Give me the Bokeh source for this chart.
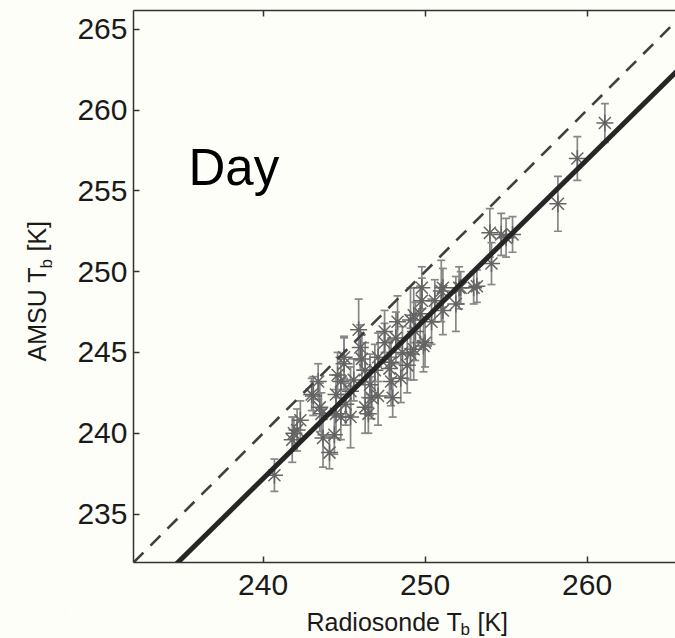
import numpy as np
from bokeh.plotting import figure
from bokeh.layouts import row, column
from bokeh.models import (Range1d, LinearAxis, Label, Whisker, TeeHead,
                          ColumnDataSource, FixedTicker, CustomJSTickFormatter)
from bokeh.embed import file_html
from bokeh.resources import INLINE

# ---------------- data ----------------
radiosonde_tb = [240.7, 241.8, 242.1, 241.9, 243.1, 243.5, 243.7, 244.1, 244.4, 244.5,
                 244.8, 245.0, 244.5, 245.1, 245.4, 244.8, 243.6, 243.4, 243.0, 244.6,
                 245.0, 245.4, 245.9, 246.1, 246.3, 246.3, 246.5, 246.7, 246.9, 247.1,
                 247.1, 247.5, 247.8, 247.9, 247.9, 248.0, 248.3, 248.5, 248.6, 248.9,
                 249.1, 249.1, 249.3, 249.4, 249.3, 249.7, 249.8, 249.9, 250.0, 249.8,
                 250.6, 251.0, 251.1, 251.1, 251.9, 252.1, 252.2, 253.0, 253.2, 254.0,
                 254.1, 254.7, 255.4, 255.0, 258.2, 259.4, 261.1, 246.0, 247.5, 242.3,
                 245.6, 250.4, 248.2, 246.6]
amsu_tb = [237.4, 239.6, 240.2, 240.0, 242.3, 241.6, 239.7, 238.8, 239.9, 241.2,
           243.2, 244.3, 242.4, 241.8, 241.0, 241.0, 241.2, 243.2, 242.4, 243.6,
           244.7, 242.6, 246.4, 244.6, 243.9, 241.6, 241.2, 242.2, 243.9, 244.7,
           242.3, 246.3, 244.0, 244.4, 243.2, 242.2, 246.9, 243.4, 245.0, 244.2,
           244.9, 247.0, 245.2, 246.3, 247.3, 247.4, 248.2, 245.4, 245.6, 249.0,
           248.2, 248.8, 247.6, 249.0, 248.0, 249.0, 249.0, 249.0, 249.1, 252.4,
           250.5, 252.3, 252.3, 252.1, 254.2, 257.0, 259.2, 245.3, 245.6, 240.8,
           243.3, 246.9, 245.9, 243.0]
amsu_err = [1.0, 1.4, 1.3, 1.0, 1.2, 1.5, 1.8, 1.0, 1.2, 1.5,
            1.5, 1.6, 1.2, 1.3, 1.9, 1.4, 1.3, 1.1, 1.0, 1.4,
            1.3, 1.5, 1.9, 1.5, 1.7, 1.6, 1.2, 1.3, 1.6, 1.5,
            1.8, 1.3, 1.7, 1.4, 1.5, 1.2, 1.6, 1.5, 1.6, 1.7,
            1.6, 2.0, 1.9, 1.8, 1.7, 1.7, 1.4, 1.6, 1.5, 1.3,
            1.3, 1.9, 1.5, 1.2, 1.7, 1.3, 1.0, 1.0, 1.0, 1.5,
            1.3, 1.3, 1.1, 1.2, 1.7, 1.35, 1.2, 1.4, 1.2, 1.2,
            1.3, 1.4, 1.6, 1.9]

one_to_one_x = [232.0, 266.0]
one_to_one_y = [232.0, 266.0]
fit_x = [232.0, 266.0]
fit_y = [229.3, 262.85]

x_ticks = [240, 250, 260]
y_ticks = [235, 240, 245, 250, 255, 260, 265]

# ---------------- styling ----------------
FONT = "Liberation Sans"
BG = "#fdfef8"
TCOL = "#1a1a1a"
FS = 25
SUB = 17

# ---------------- main figure ----------------
p = figure(width=605, height=608, output_backend="svg", toolbar_location=None,
           x_range=Range1d(232.0, 265.46), y_range=Range1d(232.0, 266.16),
           min_border_left=63, min_border_right=0, min_border_top=10,
           min_border_bottom=46)
p.background_fill_color = BG
p.border_fill_color = BG
p.outline_line_color = None
p.xgrid.visible = False
p.ygrid.visible = False

lower = [a - e for a, e in zip(amsu_tb, amsu_err)]
upper = [a + e for a, e in zip(amsu_tb, amsu_err)]
src = ColumnDataSource(dict(x=radiosonde_tb, y=amsu_tb, lower=lower, upper=upper))

bar_col = "#878787"
w = Whisker(source=src, base="x", lower="lower", upper="upper", dimension="height",
            line_color=bar_col, line_width=1.7,
            upper_head=TeeHead(size=8, line_color=bar_col, line_width=1.7),
            lower_head=TeeHead(size=8, line_color=bar_col, line_width=1.7))
p.add_layout(w)

p.scatter("x", "y", source=src, marker="asterisk", size=17,
          line_color="#646464", line_width=1.5)

p.line(one_to_one_x, one_to_one_y, line_color="#404040", line_width=2.6,
       line_dash="14 10")
p.line(fit_x, fit_y, line_color="#262626", line_width=5)

axis_col = "#333333"
for ax in (p.xaxis[0], p.yaxis[0]):
    ax.major_tick_in = 6
    ax.major_tick_out = 0
    ax.minor_tick_line_color = None
    ax.axis_line_color = axis_col
    ax.axis_line_width = 1.5
    ax.major_tick_line_color = axis_col
    ax.major_tick_line_width = 1.5
    ax.major_label_text_font = FONT
    ax.major_label_text_font_size = "30px"
    ax.major_label_text_color = TCOL
p.xaxis[0].ticker = FixedTicker(ticks=x_ticks)
p.yaxis[0].ticker = FixedTicker(ticks=y_ticks)
p.xaxis[0].major_label_standoff = 12
p.yaxis[0].major_label_standoff = 6

top = LinearAxis(ticker=FixedTicker(ticks=x_ticks),
                 formatter=CustomJSTickFormatter(code="return ''"))
top.major_tick_in = 6
top.major_tick_out = 0
top.minor_tick_line_color = None
top.axis_line_color = axis_col
top.axis_line_width = 1.5
top.major_tick_line_color = axis_col
top.major_tick_line_width = 1.5
top.major_label_standoff = 0
p.add_layout(top, "above")

p.add_layout(Label(x=55, y=395, x_units="screen", y_units="screen", text="Day",
                   text_font=FONT, text_font_size="51px", text_color="#000000",
                   text_baseline="alphabetic", text_align="left"))


def blank(width, height):
    f = figure(width=width, height=height, output_backend="svg", toolbar_location=None,
               x_range=Range1d(0, 1), y_range=Range1d(0, 1),
               x_axis_type=None, y_axis_type=None, min_border=0)
    f.background_fill_color = BG
    f.border_fill_color = BG
    f.outline_line_color = None
    f.xgrid.visible = False
    f.ygrid.visible = False
    return f


def lab(**kw):
    return Label(x_units="screen", y_units="screen", text_font=FONT, text_color=TCOL,
                 text_baseline="alphabetic", text_align="left", **kw)


# ---------------- x-axis title strip (its frame is aligned with the main frame) ----
xf = blank(605, 30)
x0 = 173
xf.add_layout(lab(x=x0, y=17, text="Radiosonde T", text_font_size=f"{FS}px"))
xf.add_layout(lab(x=x0 + 154, y=9, text="b", text_font_size=f"{SUB}px"))
xf.add_layout(lab(x=x0 + 171, y=17, text="[K]", text_font_size=f"{FS}px"))

# ---------------- y-axis title strip ----------------
yf = blank(70, 638)
yb0 = 277
xb = 36
yf.add_layout(lab(x=xb, y=yb0, text="AMSU T", angle=np.pi / 2, text_font_size=f"{FS}px"))
yf.add_layout(lab(x=xb + 10, y=yb0 + 93, text="b", angle=np.pi / 2,
                  text_font_size=f"{SUB}px"))
yf.add_layout(lab(x=xb, y=yb0 + 110, text="[K]", angle=np.pi / 2,
                  text_font_size=f"{FS}px"))

layout = row(yf, column(p, xf, spacing=0), spacing=0)

open("out.html", "w").write(file_html(layout, INLINE))
